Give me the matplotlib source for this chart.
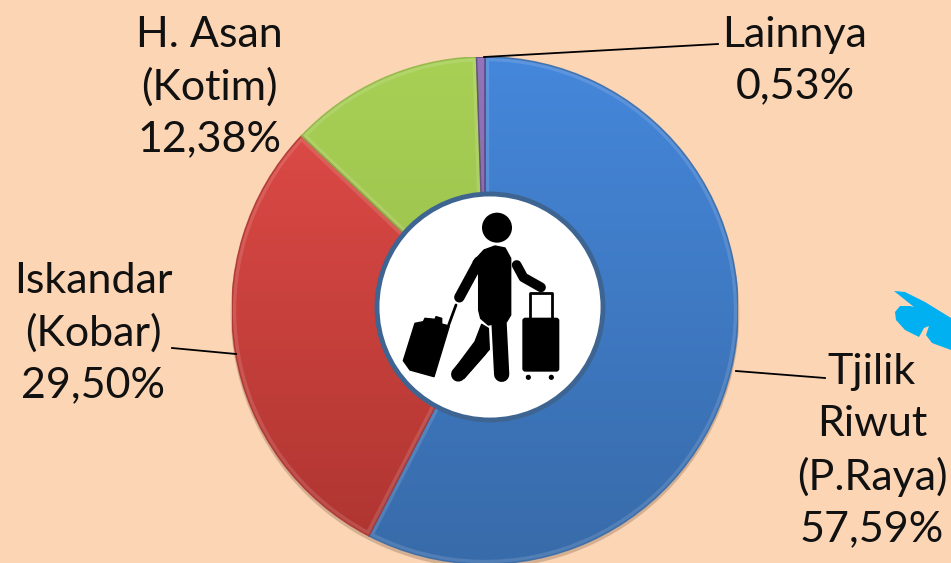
import matplotlib
matplotlib.use('Agg')
import matplotlib.pyplot as plt
import matplotlib.patches as patches
import numpy as np
from matplotlib.colors import LinearSegmentedColormap

labels = ['Tjilik\nRiwut\n(P.Raya)\n57,59%', 'Iskandar\n(Kobar)\n29,50%', 'H. Asan\n(Kotim)\n12,38%', 'Lainnya\n0,53%']
values = [57.59, 29.50, 12.38, 0.53]
colors_top = ['#4587db', '#e34d49', '#a8d055', '#8460b0']
colors_bottom = ['#386ba9', '#ad3430', '#8fb545', '#5f4385']

W, H = 951, 563
plt.rcParams['font.family'] = ['Lato', 'DejaVu Sans']

fig = plt.figure(figsize=(W / 100, H / 100), dpi=100, facecolor='#fcd5b5')

# the pie is very slightly stretched and touches the bottom of the picture
left, right, top, bottom = 232, 738, 57, 564
pie_ax = fig.add_axes([left / W, (H - bottom) / H, (right - left) / W, (bottom - top) / H])
wedges, _ = pie_ax.pie(values, startangle=90, counterclock=False, radius=1,
                       colors=colors_top, wedgeprops=dict(edgecolor='none'), frame=False)
pie_ax.set_aspect('auto')
pie_ax.axis('off')

# soft shadow under the rim
pie_ax.add_patch(patches.Ellipse((0, -0.012), 2.01, 2.01, facecolor='#7a5a40', edgecolor='none',
                                 alpha=0.3, zorder=1, clip_on=False))

# vertical shading and bevel inside each slice
for w, c1, c2 in zip(wedges, colors_top, colors_bottom):
    cmap = LinearSegmentedColormap.from_list('s', [c2, c1])
    grad = np.linspace(0, 1, 256).reshape(-1, 1)
    im = pie_ax.imshow(grad, origin='lower', cmap=cmap, aspect='auto', zorder=2, extent=(-1, 1, -1, 1))
    im.set_clip_path(w)
    bevel = patches.Wedge(w.center, w.r, w.theta1, w.theta2, facecolor='none',
                          edgecolor='white', lw=6, alpha=0.13, zorder=3)
    pie_ax.add_patch(bevel)
    bevel.set_clip_path(w)
    edge = patches.Wedge(w.center, w.r, w.theta1, w.theta2, facecolor='none',
                         edgecolor=c2, lw=1.2, alpha=0.85, zorder=3)
    pie_ax.add_patch(edge)
pie_ax.set_xlim(-1, 1)
pie_ax.set_ylim(-1, 1)

ax = fig.add_axes([0, 0, 1, 1])
ax.patch.set_alpha(0)
ax.set_xlim(0, W)
ax.set_ylim(0, H)
ax.set_aspect('equal')
ax.axis('off')


def Y(y):
    return H - y


# centre circle
hx, hy = 490, 307
ax.add_patch(patches.Circle((hx, Y(hy)), 113, facecolor='white', edgecolor='#3e6492', lw=3.5, zorder=5))


def zp(x, y):
    return 360 + x / 3, Y(190 + y / 3)


def poly(points, **kw):
    ax.add_patch(patches.Polygon([zp(*p) for p in points], closed=True, facecolor='black',
                                 edgecolor='black', joinstyle='round', zorder=6, **kw))


def stroke(points, w):
    xy = [zp(*p) for p in points]
    ax.plot([p[0] for p in xy], [p[1] for p in xy], color='black', lw=w, solid_capstyle='round',
            solid_joinstyle='round', zorder=6)


# person
hxz, hyz = zp(411, 113)
ax.add_patch(patches.Circle((hxz, hyz), 15, facecolor='black', edgecolor='none', zorder=6))
poly([(356, 255), (340, 215), (372, 180), (405, 168), (435, 174), (452, 205), (452, 375), (440, 395),
      (385, 405), (362, 385), (356, 360)], lw=1)
stroke([(356, 215), (298, 322)], 7.5)
stroke([(470, 225), (490, 262), (543, 292)], 7)
stroke([(417, 395), (425, 553)], 11)
poly([(365, 403), (385, 415), (388, 478), (312, 565), (278, 545), (345, 455)], lw=1)
stroke([(295, 553), (360, 480)], 10.5)

# suitcases
poly([(165, 400), (190, 395), (195, 385), (225, 388), (228, 380), (245, 385), (245, 402), (268, 408),
      (222, 560), (150, 540), (130, 512)], lw=1)
stroke([(266, 405), (288, 345)], 2)
ax.add_patch(patches.FancyBboxPatch(zp(487, 545), 37, 54, boxstyle='round,pad=0,rounding_size=3',
                                    facecolor='black', edgecolor='none', zorder=6))
stroke([(510, 385), (510, 310), (577, 310), (577, 385)], 2)
for wx in (505, 574):
    ax.add_patch(patches.Circle(zp(wx, 562), 2.6, facecolor='black', edgecolor='none', zorder=6))

# leader lines
ax.plot([484, 718], [Y(57), Y(44)], color='black', lw=1.3, zorder=4)
ax.plot([736, 825], [Y(371), Y(378)], color='black', lw=1.3, zorder=4)
ax.plot([172, 236], [Y(348), Y(354)], color='black', lw=1.3, zorder=4)

# labels
fs = 31
tk = dict(fontsize=fs, ha='center', va='center', color='#111111', linespacing=1.43, zorder=7)
ax.text(209, Y(87), labels[2], **tk)
ax.text(795, Y(61), labels[3], **tk)
ax.text(93, Y(333), labels[1], **tk)
ax.text(872, Y(451), labels[0], **tk)

# cyan arrow fragment at the right edge
arrow = [(894, 291), (905, 292), (925, 302), (951, 318), (951, 350), (932, 343), (926, 335), (929, 326),
         (924, 328), (919, 337), (905, 330), (896, 320), (895, 312), (900, 306), (910, 306), (914, 307)]
ax.add_patch(patches.Polygon([(x, Y(y)) for x, y in arrow], closed=True, facecolor='#00b0f0',
                             edgecolor='none', zorder=4))

fig.savefig('out.png', dpi=100)
